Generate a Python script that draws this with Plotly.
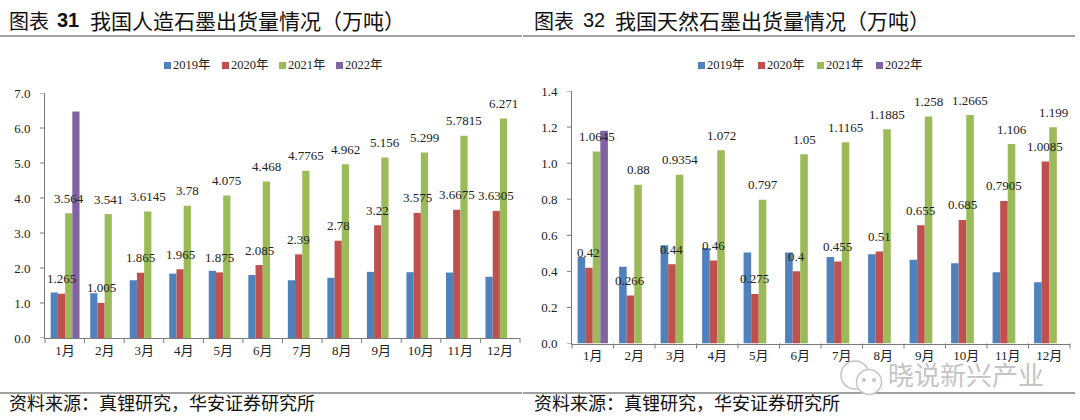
import plotly.graph_objects as go

months = ["1月", "2月", "3月", "4月", "5月", "6月", "7月", "8月", "9月", "10月", "11月", "12月"]
years = ["2019年", "2020年", "2021年", "2022年"]
colors = ["#4F81BD", "#C0504D", "#9BBB59", "#8064A2"]

syn_2019 = [1.30, 1.28, 1.65, 1.84, 1.92, 1.80, 1.65, 1.72, 1.89, 1.88, 1.87, 1.75]
syn_2020 = [1.265, 1.005, 1.865, 1.965, 1.875, 2.085, 2.39, 2.78, 3.22, 3.575, 3.6675, 3.6305]
syn_2021 = [3.564, 3.541, 3.6145, 3.78, 4.075, 4.468, 4.7765, 4.962, 5.156, 5.299, 5.7815, 6.271]
syn_2022 = [6.47]

nat_2019 = [0.48, 0.425, 0.545, 0.53, 0.505, 0.505, 0.48, 0.495, 0.465, 0.445, 0.395, 0.34]
nat_2020 = [0.42, 0.266, 0.44, 0.46, 0.275, 0.4, 0.455, 0.51, 0.655, 0.685, 0.7905, 1.0085]
nat_2021 = [1.0645, 0.88, 0.9354, 1.072, 0.797, 1.05, 1.1165, 1.1885, 1.258, 1.2665, 1.106, 1.199]
nat_2022 = [1.18]

y_ticks_left = [0, 1, 2, 3, 4, 5, 6, 7]
y_ticks_right = [0, 0.2, 0.4, 0.6, 0.8, 1.0, 1.2, 1.4]

SERIF = "Liberation Serif, Noto Sans CJK SC"
W, H = 1080, 420
AXIS_COLOR = "#7a7a7a"
fig = go.Figure()
annotations = []
shapes = []


def pfrac(py):
    return 1 - py / H


def ptext(px, py, text, size, family="Noto Sans CJK SC", color="#111111", weight="normal", anchor="left"):
    annotations.append(dict(x=px / W, y=pfrac(py), xref="paper", yref="paper", text=text, showarrow=False,
                            xanchor=anchor, yanchor="middle", xshift=0, borderpad=0, borderwidth=0,
                            font=dict(family=family, size=size, color=color, weight=weight)))


def add_panel(series, xa, ya, bar_px, swatch_xs, left_px, right_px, base_py, yticks):
    for name, vals, col, sx in zip(years, series, colors, swatch_xs):
        fig.add_trace(go.Bar(x=months[:len(vals)], y=vals, name=name, marker_color=col,
                             marker_line_width=0, xaxis=xa, yaxis=ya, hoverinfo="skip", showlegend=False))
        shapes.append(dict(type="rect", xref="paper", yref="paper", x0=sx / W, x1=(sx + 7) / W,
                           y0=pfrac(69), y1=pfrac(62), fillcolor=col, line_width=0))
        ptext(sx + 9, 65, name, 12.5, family=SERIF, color="#222222")
    for idx, vals in ((1, series[1]), (2, series[2])):
        shift = (idx - 1.5) * bar_px
        for m, v in zip(months, vals):
            annotations.append(dict(x=m, y=v, xref=xa, yref=ya, text=f"{v:g}", showarrow=False,
                                    xshift=shift, yshift=15, font=dict(family=SERIF, size=13, color="#222222")))
    for i in range(len(months) + 1):
        px = left_px + (right_px - left_px) * i / len(months)
        shapes.append(dict(type="line", xref="paper", yref="paper", x0=px / W, x1=px / W,
                           y0=pfrac(base_py), y1=pfrac(base_py + 5), line=dict(color=AXIS_COLOR, width=1)))
    for t in yticks:
        shapes.append(dict(type="line", xref="paper", yref=ya, x0=(left_px - 5) / W, x1=left_px / W,
                           y0=t, y1=t, line=dict(color=AXIS_COLOR, width=1)))


add_panel([syn_2019, syn_2020, syn_2021, syn_2022], "x", "y", 7.2, [164, 222, 279, 336], 45, 520, 338, y_ticks_left)
add_panel([nat_2019, nat_2020, nat_2021, nat_2022], "x2", "y2", 7.6, [698, 758, 817, 876], 572, 1070, 343.5, y_ticks_right)

axis_common = dict(showgrid=False, zeroline=False, showline=True, linecolor=AXIS_COLOR, linewidth=1,
                   ticks="outside", tickcolor="rgba(0,0,0,0)",
                   tickfont=dict(family=SERIF, size=13, color="#222222"))

fig.update_layout(
    width=W, height=H, margin=dict(l=0, r=0, t=0, b=0, autoexpand=False), paper_bgcolor="white", plot_bgcolor="white",
    barmode="group", bargap=0.27, bargroupgap=0, showlegend=False,
    xaxis=dict(domain=[45 / W, 520 / W], anchor="y", type="category", categoryorder="array",
               categoryarray=months, tickson="boundaries", ticklen=15, **axis_common),
    yaxis=dict(domain=[pfrac(338), pfrac(93)], anchor="x", range=[0, 7], tickvals=y_ticks_left,
               tickformat=".1f", ticklen=11, **axis_common),
    xaxis2=dict(domain=[572 / W, 1070 / W], anchor="y2", type="category", categoryorder="array",
                categoryarray=months, tickson="boundaries", ticklen=12, **axis_common),
    yaxis2=dict(domain=[pfrac(343.5), pfrac(91)], anchor="x2", range=[0, 1.4], tickvals=y_ticks_right,
                tickformat=".1f", ticklen=11, **axis_common),
)

ptext(9, 20, "图表", 20)
ptext(57, 20, "31", 20, family="Liberation Sans", weight="bold")
ptext(90, 20, "我国人造石墨出货量情况（万吨）", 21)
ptext(534, 20, "图表", 20)
ptext(583, 20, "32", 20, family="Liberation Sans")
ptext(615, 20, "我国天然石墨出货量情况（万吨）", 21)
ptext(9, 402, "资料来源：真锂研究，华安证券研究所", 18)
ptext(534, 402, "资料来源：真锂研究，华安证券研究所", 18)

for x0, x1 in ((0, 522), (523, 1075)):
    for py in (36, 393):
        shapes.append(dict(type="line", xref="paper", yref="paper", x0=x0 / W, x1=x1 / W,
                           y0=pfrac(py), y1=pfrac(py), line=dict(color="#444444", width=1.2)))
for cx, cy, r, fill in ((855, 375, 14, "rgba(255,255,255,0)"), (869, 382, 12.5, "white"),
                        (864, 380, 1.2, "#c4c4c4"), (874, 380, 1.2, "#c4c4c4")):
    shapes.append(dict(type="circle", xref="paper", yref="paper", x0=(cx - r) / W, x1=(cx + r) / W,
                       y0=pfrac(cy + r), y1=pfrac(cy - r), line=dict(color="#c4c4c4", width=1.5),
                       fillcolor=fill))
ptext(888, 373, "晓说新兴产业", 26, color="#c4c4c4")

fig.update_layout(annotations=annotations, shapes=shapes)

fig.write_html("out.html", post_script="document.body.style.margin='0';", config=dict(displayModeBar=False))
